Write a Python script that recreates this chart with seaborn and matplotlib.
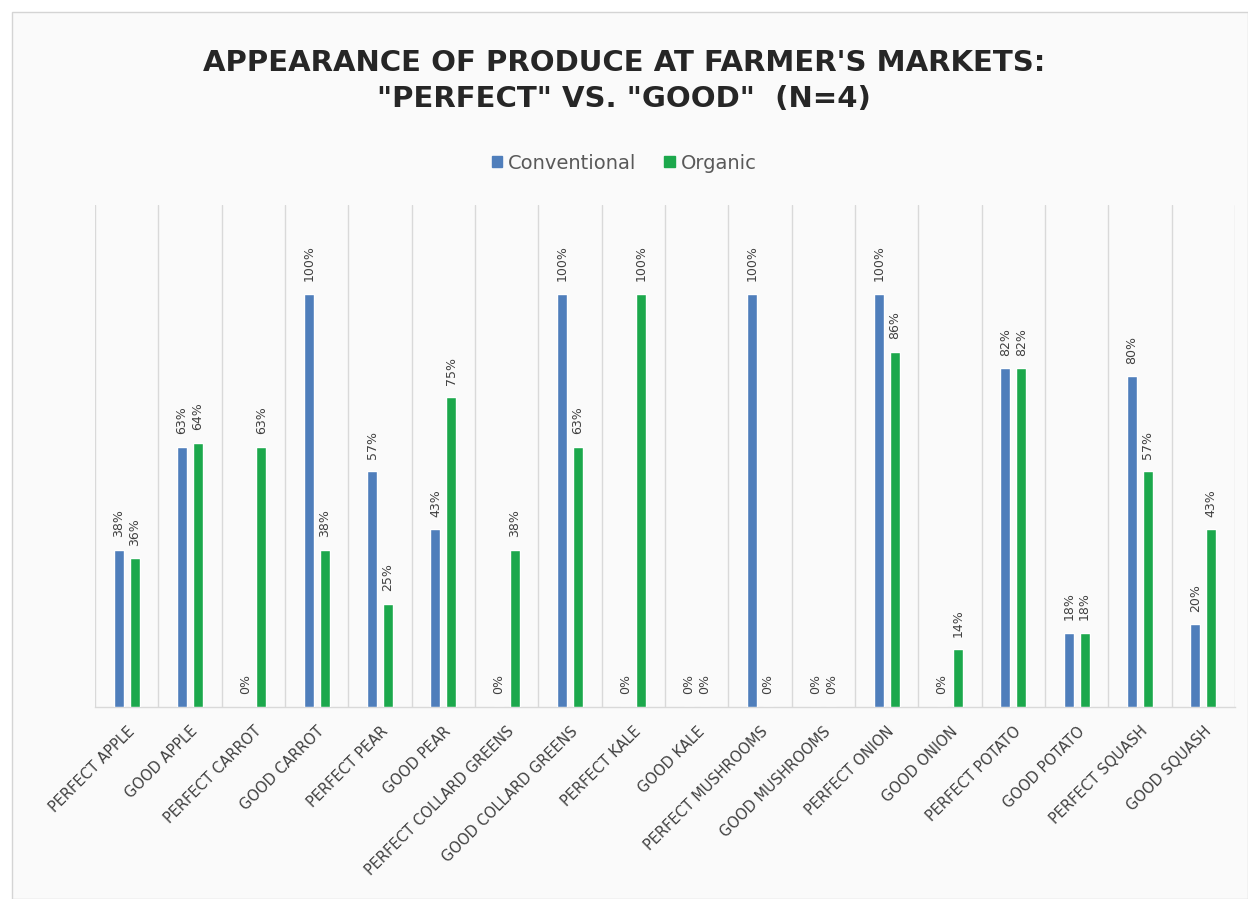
import matplotlib
matplotlib.use("Agg")
import matplotlib.pyplot as plt
import matplotlib.patches as mpatches
import numpy as np
import pandas as pd
import seaborn as sns

# Produce categories (appearance grade + item)
categories = [
    "PERFECT APPLE", "GOOD APPLE", "PERFECT CARROT", "GOOD CARROT",
    "PERFECT PEAR", "GOOD PEAR", "PERFECT COLLARD GREENS", "GOOD COLLARD GREENS",
    "PERFECT KALE", "GOOD KALE", "PERFECT MUSHROOMS", "GOOD MUSHROOMS",
    "PERFECT ONION", "GOOD ONION", "PERFECT POTATO", "GOOD POTATO",
    "PERFECT SQUASH", "GOOD SQUASH",
]

# Share of vendors per category
conventional = [0.38, 0.63, 0.00, 1.00, 0.57, 0.43, 0.00, 1.00, 0.00,
                0.00, 1.00, 0.00, 1.00, 0.00, 0.82, 0.18, 0.80, 0.20]
organic = [0.36, 0.64, 0.63, 0.38, 0.25, 0.75, 0.38, 0.63, 1.00,
           0.00, 0.00, 0.00, 0.86, 0.14, 0.82, 0.18, 0.57, 0.43]

series_names = ["Conventional", "Organic"]
colors = ["#4f7ebb", "#1ca84c"]

df = pd.DataFrame({
    "category": categories * 2,
    "share": conventional + organic,
    "type": [series_names[0]] * len(categories) + [series_names[1]] * len(categories),
})

sns.set_theme(style="white")
plt.rcParams["font.family"] = ["DejaVu Sans"]

bg = "#fafafa"
fig = plt.figure(figsize=(12.48, 8.99), dpi=100, facecolor="white")
# chart frame
frame = mpatches.Rectangle((12 / 1248, 0), 1 - 12 / 1248, 1 - 12 / 899,
                           transform=fig.transFigure, facecolor=bg,
                           edgecolor="#d4d4d4", linewidth=1.0, zorder=-10)
fig.patches.append(frame)

ax = fig.add_axes([95 / 1248, 1 - 707 / 899, (1235 - 95) / 1248, (707 - 205) / 899])
ax.set_zorder(1)
ax.patch.set_visible(False)

sns.barplot(data=df, x="category", y="share", hue="type", order=categories,
            hue_order=series_names, palette=colors, width=0.5, gap=0.36,
            saturation=1, ax=ax, legend=False, zorder=3)

for cont, vals in zip(ax.containers, [conventional, organic]):
    ax.bar_label(cont, labels=[f"{v:.0%}" for v in vals], rotation=90,
                 padding=9, fontsize=9, color="#404040")

ax.set_xlim(-0.5, len(categories) - 0.5)
ax.set_ylim(0, 1.215)
ax.set_yticks([])
ax.set_xlabel("")
ax.set_ylabel("")

# separators between categories
for b in np.arange(-0.5, len(categories), 1.0):
    ax.axvline(b, color="#d9d9d9", linewidth=1.0, zorder=1)

for s in ["top", "left", "right"]:
    ax.spines[s].set_visible(False)
ax.spines["bottom"].set_color("#d9d9d9")
ax.spines["bottom"].set_linewidth(1.0)

ax.set_xticks(range(len(categories)))
ax.set_xticklabels(categories, rotation=45, ha="right", rotation_mode="anchor",
                   fontsize=10.5, color="#404040")
ax.tick_params(axis="x", length=0, pad=12)

# legend
handles = [mpatches.Patch(color=c, label=n) for c, n in zip(colors, series_names)]
fig.legend(handles=handles, loc="center", bbox_to_anchor=(0.5, 1 - 163 / 899),
           ncol=2, frameon=False, fontsize=14, handlelength=0.55, handleheight=0.55,
           handletextpad=0.3, columnspacing=1.4, labelcolor="#595959")

fig.text(0.5, 1 - 81 / 899,
         "APPEARANCE OF PRODUCE AT FARMER'S MARKETS:\n\"PERFECT\" VS. \"GOOD\"  (N=4)",
         ha="center", va="center", fontsize=21, fontweight="bold",
         color="#262626", linespacing=1.4)

fig.savefig("out.png", dpi=100, facecolor="white")
